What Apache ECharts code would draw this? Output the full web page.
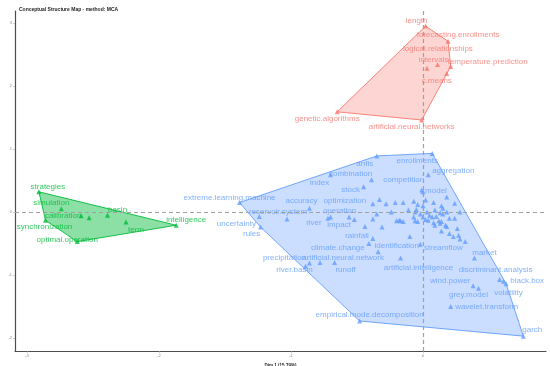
<!DOCTYPE html>
<html><head><meta charset="utf-8">
<script src="https://cdn.jsdelivr.net/npm/echarts@6/dist/echarts.min.js"></script>
<style>html,body{margin:0;padding:0;background:#fff}#c{width:550px;height:366px}</style>
</head><body><div id="c"></div>
<script>
// ---- data (Dim 1, Dim 2) ----
const redTerms = ['length','forecasting.enrollments','logical.relationships','intervals','temperature.prediction','c.means','genetic.algorithms','artificial.neural.networks'];
const redX = [0.02, 0.19, 0.03, 0.11, 0.21, 0.18, -0.65, -0.01];
const redY = [2.95, 2.71, 2.28, 2.34, 2.31, 2.20, 1.59, 1.46];

const greenTerms = ['strategies','simulation','calibration','','basin','term','intelligence','synchronization','optimal.operation'];
const greenX = [-2.91, -2.74, -2.59, -2.53, -2.39, -2.25, -1.87, -2.86, -2.62];
const greenY = [0.32, 0.05, -0.06, -0.09, -0.05, -0.16, -0.21, -0.13, -0.47];

const blueTerms = ['anfis','enrollments','aggregation','combination','index','competition','model','stock','optimization','accuracy',
  'extreme.learning.machine','reservoir.system','operation','uncertainty','rules','river','impact','rainfall','climate.change','identification',
  'streamflow','precipitation','artificial.neural.network','river.basin','runoff','artificial.intelligence','market','discriminant.analysis','wind.power','black.box',
  'volatility','grey.model','wavelet.transform','empirical.mode.decomposition','garch'];
const blueX = [-0.35, 0.07, 0.04, -0.39, -0.70, -0.01, 0.00, -0.45, -0.38, -0.86,
  -1.39, -1.03, -0.70, -1.24, -1.23, -0.72, -0.56, -0.44, -0.41, -0.10,
  -0.02, -0.86, -0.78, -0.89, -0.67, -0.17, 0.39, 0.58, 0.38, 0.63,
  0.61, 0.42, 0.21, -0.48, 0.76];
const blueY = [0.89, 0.93, 0.59, 0.51, 0.59, 0.35, 0.32, 0.40, 0.13, 0.06,
  0.15, -0.11, -0.08, -0.07, -0.24, -0.10, -0.08, -0.23, -0.50, -0.39,
  -0.51, -0.81, -0.80, -0.86, -0.80, -0.73, -0.73, -1.07, -1.17, -1.14,
  -1.10, -1.21, -1.50, -1.73, -1.97];

// unlabeled terms of the blue cluster
const blueOtherX = [0.18,-0.33,-0.28,-0.21,-0.15,-0.07,0.02,0.08,-0.04,0.00,0.14,0.15,0.24,0.28,-0.52,-0.35,-0.38,-0.24,-0.11,-0.06,
  -0.05,-0.02,0.03,0.05,0.09,0.10,0.13,0.15,0.18,0.20,0.24,-0.20,-0.18,-0.17,-0.15,-0.07,-0.06,-0.04,0.00,0.02,
  0.04,0.07,0.08,0.09,0.12,0.13,0.14,0.17,0.18,0.26,0.14,0.20,0.23,0.27,0.28,0.32,-0.31,-0.38,-0.34];
const blueOtherY = [0.24,0.20,0.13,0.15,0.15,0.17,0.19,0.15,0.12,0.10,0.10,0.06,0.14,0.00,-0.12,-0.03,-0.11,0.00,0.03,0.00,
  0.04,-0.03,0.00,-0.05,0.03,-0.07,-0.01,-0.03,0.00,-0.10,-0.10,-0.14,-0.13,-0.14,-0.15,-0.08,-0.14,-0.15,-0.08,-0.12,
  -0.13,-0.08,-0.17,-0.21,-0.14,-0.18,-0.15,-0.21,-0.23,-0.26,-0.30,-0.34,-0.39,-0.37,-0.43,-0.47,-0.24,-0.42,-0.63];

const xTicks = [-3, -2, -1, 0];
const yTicks = [-2, -1, 0, 1, 2, 3];

// ---- label placement (pixel offsets, style only) ----
const labelOffsets = {
  'length':[-9,-5],'forecasting.enrollments':[10,-6],'logical.relationships':[11,-20],'intervals':[-4,-5],
  'temperature.prediction':[37,-5],'c.means':[-10,7],'genetic.algorithms':[-10,7],'artificial.neural.networks':[-10,7],
  'strategies':[9,-5],'simulation':[-10,-6],'calibration':[-18,0],'basin':[10,-5],'synchronization':[-1,7],
  'term':[10,8],'intelligence':[10,-5],'optimal.operation':[-10,-2],
  'anfis':[-12,8],'enrollments':[-15,7],'aggregation':[25,-4],'combination':[-21,-6],'index':[-11,8],
  'competition':[-18,-10],'model':[13,-1],'stock':[-13,3],'optimization':[-28,-3],'accuracy':[-8,-7],
  'extreme.learning.machine':[-10,-5],'reservoir.system':[-9,-7],'operation':[9,-6],'uncertainty':[-23,7],
  'rules':[-9,7],'river':[-14,4],'impact':[-10,8],'rainfall':[-8,9],'climate.change':[-31,4],
  'identification':[-13,9],'streamflow':[23,4],'precipitation':[-25,-5],'artificial.neural.network':[23,-5],
  'river.basin':[-11,4],'runoff':[11,7],'artificial.intelligence':[18,10],'market':[10,-5],
  'discriminant.analysis':[-4,-10],'wind.power':[-23,-5],'black.box':[21,-3],'volatility':[5,11],
  'grey.model':[-10,7],'wavelet.transform':[36,0],'empirical.mode.decomposition':[10,-6],'garch':[9,-6]
};

const RED = '#F8766D', GREEN = '#00BA38', BLUE = '#619CFF';
const FONT = '"Liberation Sans", Arial, sans-serif';

function pts(xs, ys){ return xs.map((x,i)=>[x, ys[i]]); }
function convexHull(p){
  const a = p.slice().sort((u,v)=>u[0]-v[0]||u[1]-v[1]);
  const cross=(o,a1,b)=>(a1[0]-o[0])*(b[1]-o[1])-(a1[1]-o[1])*(b[0]-o[0]);
  const lo=[],up=[];
  for(const q of a){while(lo.length>=2&&cross(lo[lo.length-2],lo[lo.length-1],q)<=0)lo.pop();lo.push(q);}
  for(let i=a.length-1;i>=0;i--){const q=a[i];while(up.length>=2&&cross(up[up.length-2],up[up.length-1],q)<=0)up.pop();up.push(q);}
  lo.pop();up.pop();return lo.concat(up);
}
function hullSeries(points, color, alpha){
  const h = convexHull(points);
  return {
    type:'custom', z:1, silent:true, clip:false, data:[[points[0][0], points[0][1]]],
    renderItem:(params, api)=>({
      type:'polygon',
      shape:{points:h.map(q=>api.coord(q))},
      style:{fill:echarts.color.modifyAlpha(color, alpha), stroke:color, lineWidth:0.9}
    })
  };
}
function labeledSeries(terms, xs, ys, color){
  return {
    type:'scatter', z:3, symbol:'triangle', symbolSize:5, itemStyle:{color:color},
    data: terms.map((t,i)=>({name:t, value:[xs[i], ys[i]],
      label:{show: t!=='', offset: labelOffsets[t]||[0,0]}})),
    label:{position:'inside', formatter:'{b}', fontSize:8, color:color, fontFamily:FONT},
    emphasis:{disabled:true}
  };
}

const chart = echarts.init(document.getElementById('c'), null, {renderer:'canvas'});
chart.setOption({
  animation:false,
  backgroundColor:'#ffffff',
  title:{text:'Conceptual Structure Map - method: MCA', left:14, top:2,
    textStyle:{fontSize:5, fontWeight:'bold', color:'#222', fontFamily:FONT}},
  grid:{left:15, right:4, top:11, bottom:15, containLabel:false, outerBoundsMode:'none'},
  xAxis:{type:'value', min:-3.091, max:0.932,
    name:'Dim 1 (15.79%)', nameLocation:'middle', nameGap:6.5,
    nameTextStyle:{fontSize:4.5, fontWeight:'bold', color:'#222', fontFamily:FONT},
    splitLine:{show:false},
    axisLine:{show:true, onZero:false, lineStyle:{color:'#4d4d4d', width:1.2}},
    axisTick:{show:true, length:2, customValues:xTicks, lineStyle:{color:'#aaa', width:0.6}},
    axisLabel:{customValues:xTicks, fontSize:4, color:'#888', margin:3, fontFamily:FONT}},
  yAxis:{type:'value', min:-2.206, max:3.19,
    name:'Dim 2 (11.53%)', nameLocation:'middle', nameGap:9, nameRotate:90,
    nameTextStyle:{fontSize:4.5, fontWeight:'bold', color:'#222', fontFamily:FONT},
    splitLine:{show:false},
    axisLine:{show:true, onZero:false, lineStyle:{color:'#4d4d4d', width:1.2}},
    axisTick:{show:true, length:2, customValues:yTicks, lineStyle:{color:'#aaa', width:0.6}},
    axisLabel:{customValues:yTicks, fontSize:4, color:'#888', margin:3, fontFamily:FONT}},
  series:[
    hullSeries(pts(redX, redY), RED, 0.3),
    hullSeries(pts(greenX, greenY), GREEN, 0.45),
    hullSeries(pts(blueX.concat(blueOtherX), blueY.concat(blueOtherY)), BLUE, 0.33),
    {type:'scatter', z:2, data:[], silent:true,
      markLine:{symbol:'none', silent:true, label:{show:false},
        lineStyle:{type:[4,3], color:'#a0a0a0', width:1.2},
        data:[{xAxis:0},{yAxis:0}]}},
    {type:'scatter', z:3, symbol:'triangle', symbolSize:5, itemStyle:{color:BLUE},
      data:pts(blueOtherX, blueOtherY), silent:true},
    labeledSeries(redTerms, redX, redY, RED),
    labeledSeries(greenTerms, greenX, greenY, GREEN),
    labeledSeries(blueTerms, blueX, blueY, BLUE)
  ]
});
</script>
</body></html>
